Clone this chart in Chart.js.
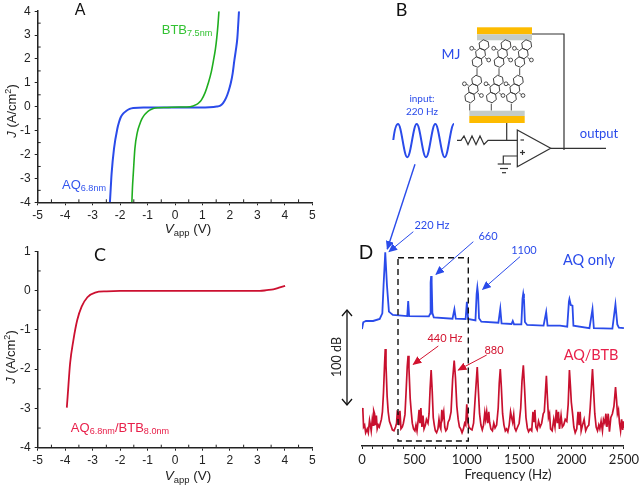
<!DOCTYPE html>
<html>
<head>
<meta charset="utf-8">
<title>Molecular junction rectification</title>
<script src="https://cdn.jsdelivr.net/npm/chart.js@4"></script>
<style>
  html, body { margin: 0; padding: 0; background: #fff; }
  #page { position: relative; width: 642px; height: 485px; overflow: hidden; filter: blur(0.4px); }
  canvas { position: absolute; }
  svg { position: absolute; left: 0; top: 0; }
  .t { position: absolute; transform: translate(-50%, -50%); white-space: nowrap; font-family: "Liberation Sans", Arial, sans-serif; line-height: 1; }
  .l { font-family: Lato, sans-serif; }
  .r { transform: translate(-50%, -50%) rotate(-90deg); }
  sub { font-size: 70%; vertical-align: -0.3em; line-height: 0; }
  sup { font-size: 70%; vertical-align: 0.45em; line-height: 0; }
</style>
</head>
<body>
<div id="page">
  <canvas id="chartA" width="325" height="235" style="left:0;top:0"></canvas>
  <canvas id="chartC" width="325" height="245" style="left:0;top:240px"></canvas>
  <canvas id="chartD" width="312" height="260" style="left:330px;top:225px"></canvas>

  <svg width="642" height="485">
    <defs>
      <g id="aq" fill="none" stroke="#3a3a3a" stroke-width="0.9">
        <g transform="rotate(-8)">
          <polygon points="0,-5.3 4.6,-2.65 4.6,2.65 0,5.3 -4.6,2.65 -4.6,-2.65"/>
          <polygon transform="translate(-4.6,7.97)" points="0,-5.3 4.6,-2.65 4.6,2.65 0,5.3 -4.6,2.65 -4.6,-2.65"/>
          <polygon transform="translate(-9.2,15.93)" points="0,-5.3 4.6,-2.65 4.6,2.65 0,5.3 -4.6,2.65 -4.6,-2.65"/>
        </g>
        <circle cx="-12.3" cy="3.3" r="1.9"/>
        <circle cx="4.7" cy="15" r="1.9"/>
        <line x1="-10.4" y1="3.8" x2="-8.2" y2="4.8"/>
        <line x1="3" y1="14" x2="1" y2="12.6"/>
        <line x1="-7" y1="23.2" x2="-7" y2="30"/>
      </g>
      <marker id="headB" markerWidth="9" markerHeight="8" refX="8" refY="4" orient="auto" markerUnits="userSpaceOnUse"><path d="M0 0 L9 4 L0 8 Z" fill="#2a4bea"/></marker>
      <marker id="headR" markerWidth="9" markerHeight="8" refX="8" refY="4" orient="auto" markerUnits="userSpaceOnUse"><path d="M0 0 L9 4 L0 8 Z" fill="#d2122e"/></marker>
    </defs>

    <!-- junction -->
    <rect x="477" y="27.3" width="55" height="7" fill="#fdbb00"/>
    <rect x="477" y="34.3" width="55" height="6" fill="#c4ccc8"/>
    <rect x="469.3" y="110.7" width="55.4" height="5.3" fill="#c4ccc8"/>
    <rect x="469.3" y="116" width="55.4" height="7" fill="#fdbb00"/>
    <use href="#aq" x="484" y="45"/>
    <use href="#aq" x="506" y="45"/>
    <use href="#aq" x="526.7" y="45"/>
    <use href="#aq" x="476.7" y="80.5"/>
    <use href="#aq" x="498.3" y="80.5"/>
    <use href="#aq" x="518.3" y="80.5"/>

    <!-- amplifier circuit -->
    <g fill="none" stroke="#333" stroke-width="1.2">
      <polyline points="532,34 564,34 564,150"/>
      <polyline points="550.7,148.3 606,148.3"/>
      <polygon points="517.3,130 517.3,166.7 550.7,148.3"/>
      <polyline points="506.7,123 506.7,140.3"/>
      <polyline points="457,140.3 461,140.3 464,136 468,144.5 472,136 476,144.5 480,136 484,144.5 488,140.3 517.3,140.3"/>
      <polyline points="517.3,156 503.3,156 503.3,164"/>
      <line x1="497.7" y1="164" x2="511" y2="164"/>
      <line x1="500" y1="168.5" x2="508" y2="168.5"/>
      <line x1="502" y1="172.7" x2="506" y2="172.7"/>
      <line x1="520.5" y1="140" x2="524" y2="140"/>
      <line x1="520" y1="152.5" x2="525" y2="152.5"/>
      <line x1="522.5" y1="150" x2="522.5" y2="155"/>
    </g>
    <path d="M393.3 140 C394.5 130 396 124 398 124 C401.5 124 403.8 157.3 407.3 157.3 C410.8 157.3 413.2 124 416.7 124 C420.2 124 422.5 157.3 426 157.3 C429.5 157.3 431.8 124 435.3 124 C438.8 124 441.2 157.3 444.7 157.3 C448.2 157.3 450.5 124 454 124" fill="none" stroke="#2a4bea" stroke-width="2"/>

    <!-- arrows -->
    <g stroke="#2a4bea" fill="none">
      <line x1="415" y1="164.3" x2="387.3" y2="249" stroke-width="1.4" marker-end="url(#headB)"/>
      <line x1="413.3" y1="231.7" x2="389" y2="251.7" stroke-width="1" marker-end="url(#headB)"/>
      <line x1="473.3" y1="241.7" x2="436" y2="274.3" stroke-width="1" marker-end="url(#headB)"/>
      <line x1="520" y1="256.7" x2="482.7" y2="289.3" stroke-width="1" marker-end="url(#headB)"/>
    </g>
    <g stroke="#d2122e" fill="none" stroke-width="1">
      <line x1="438.3" y1="346" x2="413.3" y2="364.3" marker-end="url(#headR)"/>
      <line x1="486.7" y1="355" x2="458.3" y2="370" marker-end="url(#headR)"/>
    </g>
    <rect x="398" y="257.7" width="70.3" height="183.3" fill="none" stroke="#111" stroke-width="1.4" stroke-dasharray="6 4"/>
    <g fill="none" stroke="#111" stroke-width="1.3">
      <line x1="347" y1="310" x2="347" y2="405"/>
      <polyline points="342,316 347,310 352,316"/>
      <polyline points="342,399 347,405 352,399"/>
    </g>
  </svg>

  <div class="t" style="left:80px;top:10px;font-size:16px;color:#111">A</div>
  <div class="t l" style="left:401.5px;top:9px;font-size:18px;color:#111">B</div>
  <div class="t l" style="left:100px;top:254px;font-size:18px;color:#111">C</div>
  <div class="t l" style="left:366px;top:251px;font-size:19px;color:#111">D</div>

  <div class="t" style="left:187px;top:29px;font-size:13px;color:#33c233">BTB<sub>7.5nm</sub></div>
  <div class="t" style="left:84px;top:184px;font-size:13px;color:#3355ee">AQ<sub>6.8nm</sub></div>
  <div class="t" style="left:120px;top:427px;font-size:13px;color:#e8204a">AQ<sub>6.8nm</sub>/BTB<sub>8.0nm</sub></div>

  <div class="t" style="left:188px;top:229px;font-size:13.5px;color:#222"><i>V</i><sub>app</sub> (V)</div>
  <div class="t" style="left:188px;top:476px;font-size:13.5px;color:#222"><i>V</i><sub>app</sub> (V)</div>
  <div class="t r" style="left:11px;top:111px;font-size:13px;color:#222"><i>J</i> (A/cm<sup>2</sup>)</div>
  <div class="t r" style="left:10px;top:357px;font-size:13px;color:#222"><i>J</i> (A/cm<sup>2</sup>)</div>

  <div class="t l" style="left:451px;top:54px;font-size:14px;color:#2a4bea">MJ</div>
  <div class="t l" style="left:422px;top:98px;font-size:10px;color:#2a4bea">input:</div>
  <div class="t l" style="left:422px;top:111px;font-size:10px;color:#2a4bea">220 Hz</div>
  <div class="t l" style="left:599px;top:133px;font-size:13px;color:#2a4bea">output</div>
  <div class="t l" style="left:432px;top:224px;font-size:11px;color:#2a4bea">220 Hz</div>
  <div class="t l" style="left:488px;top:235px;font-size:11px;color:#2a4bea">660</div>
  <div class="t l" style="left:524px;top:249px;font-size:11px;color:#2a4bea">1100</div>
  <div class="t l" style="left:589px;top:260px;font-size:14.5px;color:#2a4bea">AQ only</div>
  <div class="t l" style="left:445px;top:337px;font-size:11px;color:#d2122e">440 Hz</div>
  <div class="t l" style="left:494px;top:349px;font-size:11px;color:#d2122e">880</div>
  <div class="t l" style="left:591px;top:355px;font-size:14.5px;color:#e8204a">AQ/BTB</div>
  <div class="t l r" style="left:337px;top:357px;font-size:12.5px;color:#222">100 dB</div>
  <div class="t l" style="left:508px;top:475px;font-size:13.3px;color:#222">Frequency (Hz)</div>
</div>

<script>
/* globals Chart:false */

// Panel A, J-V curves
var vBtb = [-1.57, -1.55, -1.52, -1.46, -1.37, -1.29, -1.21, -1.12, -1.03, -0.92, -0.79, -0.6, -0.3, 0.2, 0.55, 0.79, 0.88, 0.97, 1.1, 1.21, 1.32, 1.40, 1.47, 1.52, 1.57, 1.60]
var jBtb = [-4, -3.4, -2.82, -1.74, -1.06, -0.75, -0.52, -0.35, -0.24, -0.14, -0.07, -0.04, -0.03, -0.01, 0, 0.1, 0.18, 0.3, 0.6, 0.98, 1.45, 1.93, 2.4, 2.87, 3.5, 4]
var vAq = [-2.37, -2.34, -2.31, -2.22, -2.10, -2.04, -1.98, -1.88, -1.78, -1.65, -1.52, -1.15, -0.5, 0.3, 0.91, 1.52, 1.65, 1.75, 1.86, 1.95, 2.03, 2.10, 2.16, 2.22, 2.27, 2.33]
var jAq = [-4, -3.4, -2.82, -1.74, -0.92, -0.65, -0.45, -0.28, -0.18, -0.09, -0.05, -0.03, -0.03, -0.03, -0.03, 0.01, 0.05, 0.15, 0.37, 0.65, 0.98, 1.4, 1.93, 2.4, 2.87, 4]

// Panel C, J-V curve
var vBilayer = [-3.94, -3.91, -3.82, -3.70, -3.56, -3.40, -3.19, -2.91, -2.49, -2.0, -1, 0, 1, 2, 3.09, 3.34, 3.58, 3.82, 4.01]
var jBilayer = [-2.98, -2.70, -1.85, -1.26, -0.75, -0.41, -0.17, -0.05, -0.02, -0.01, -0.01, -0.01, -0.01, -0.01, -0.01, 0.01, 0.03, 0.08, 0.12]

// Panel D, spectra (dB above the axis, no scale printed in the figure)
var fAqOnly = [0, 12, 38, 106, 169, 194, 206, 222, 238, 257, 294, 432, 441, 450, 638, 650, 655, 660, 665, 672, 685, 864, 882, 895, 989, 1001, 1013, 1083, 1094, 1101, 1108, 1117, 1139, 1302, 1320, 1332, 1427, 1439, 1451, 1521, 1532, 1539, 1546, 1555, 1577, 1733, 1758, 1771, 1890, 1959, 1975, 1980, 1993, 2009, 2018, 2171, 2200, 2213, 2390, 2419, 2437, 2452, 2500]
var dbAqOnly = [123.2, 130.2, 131.6, 131.6, 133.7, 139.6, 169.5, 203.9, 169.5, 141.4, 138, 136.8, 152.6, 136.8, 136.5, 139, 172, 178.9, 172, 140, 135.4, 134, 143.9, 134, 133.7, 151.9, 133.7, 132.3, 160, 167, 160, 134.4, 130.9, 129.8, 144.6, 129.1, 128.4, 131.6, 128, 128, 155, 160.3, 155, 130.5, 127.4, 126.7, 141, 126.7, 126.7, 125.6, 152, 154.7, 148.4, 147.7, 126.7, 124, 144, 124, 123.5, 149, 128, 124.5, 124]

var fAqBtb = [0, 8, 15, 25, 35, 50, 60, 72, 80, 88, 98, 105, 112, 120, 128, 137, 145, 155, 165, 175, 185, 195, 205, 215, 222, 229, 240, 250, 262, 275, 290, 305, 320, 330, 337, 345, 352, 362, 372, 385, 395, 410, 420, 432, 440, 448, 460, 470, 480, 492, 505, 515, 525, 535, 545, 553, 562, 572, 582, 592, 605, 615, 630, 640, 650, 660, 670, 680, 690, 700, 712, 725, 735, 745, 752, 762, 770, 780, 790, 800, 812, 822, 835, 850, 865, 880, 892, 905, 918, 930, 942, 955, 968, 980, 990, 1000, 1010, 1020, 1035, 1050, 1065, 1080, 1092, 1100, 1110, 1122, 1135, 1148, 1160, 1172, 1180, 1190, 1200, 1210, 1218, 1230, 1245, 1258, 1270, 1285, 1300, 1310, 1320, 1330, 1342, 1355, 1368, 1380, 1392, 1405, 1418, 1428, 1438, 1448, 1458, 1470, 1485, 1500, 1515, 1527, 1540, 1552, 1565, 1578, 1590, 1605, 1620, 1632, 1642, 1650, 1660, 1672, 1685, 1700, 1715, 1730, 1740, 1750, 1760, 1770, 1780, 1790, 1800, 1815, 1830, 1842, 1855, 1865, 1875, 1885, 1900, 1912, 1925, 1940, 1955, 1968, 1980, 1990, 1998, 2010, 2022, 2035, 2050, 2062, 2072, 2082, 2092, 2105, 2120, 2135, 2150, 2165, 2178, 2190, 2200, 2210, 2222, 2235, 2248, 2260, 2270, 2282, 2295, 2305, 2318, 2328, 2338, 2350, 2362, 2375, 2390, 2405, 2420, 2430, 2438, 2448, 2458, 2468, 2478, 2488, 2495, 2500]
var dbAqBtb = [40, 38, 20, 22, 14, 18, 14, 27, 22, 16, 28, 22, 37, 34, 22, 32, 18, 22, 20, 24, 28, 36, 56, 85, 102, 85, 52, 36, 26, 22, 17, 16, 20, 24, 36, 35, 22, 37, 18, 20, 24, 33, 55, 84, 95, 82, 50, 36, 24, 18, 16, 22, 16, 26, 38, 24, 40, 20, 32, 18, 22, 28, 24, 34, 60, 80, 58, 30, 22, 16, 14, 18, 28, 20, 18, 38, 30, 36, 20, 16, 18, 25, 28, 36, 70, 90, 72, 42, 28, 20, 18, 14, 18, 24, 22, 44, 26, 20, 18, 17, 24, 50, 70, 83, 60, 34, 22, 17, 22, 35, 28, 36, 24, 36, 25, 18, 16, 24, 19, 22, 40, 66, 81, 62, 34, 22, 16, 18, 15, 22, 36, 30, 25, 33, 19, 16, 20, 24, 40, 68, 85, 60, 30, 19, 15, 18, 16, 36, 26, 38, 20, 17, 26, 20, 24, 34, 36, 55, 74, 50, 30, 34, 18, 16, 28, 20, 38, 24, 36, 18, 32, 20, 22, 28, 26, 44, 80, 62, 46, 34, 20, 14, 18, 36, 22, 36, 16, 22, 28, 16, 20, 22, 40, 62, 81, 60, 34, 20, 16, 22, 18, 26, 16, 28, 24, 34, 20, 34, 15, 30, 34, 42, 62, 48, 34, 38, 24, 16, 28, 17, 26, 19]

var axisColor = '#222'
var tickFont = { family: '"Liberation Sans", Arial, sans-serif', size: 12 }

function xy (xs, ys) {
  return xs.map(function (x, i) { return { x: x, y: ys[i] } })
}

// small inward ticks halfway between the labelled ones
var minorTicks = {
  id: 'minorTicks',
  afterDraw: function (chart) {
    var step = chart.options.plugins.minorTicks.step
    if (!step) return
    var c = chart.ctx
    var a = chart.chartArea
    var v
    c.save()
    c.strokeStyle = axisColor
    c.lineWidth = 1
    c.beginPath()
    for (v = chart.scales.x.min + step; v < chart.scales.x.max; v += 2 * step) {
      var px = chart.scales.x.getPixelForValue(v)
      c.moveTo(px, a.bottom)
      c.lineTo(px, a.bottom - 3)
    }
    for (v = chart.scales.y.min + step; v < chart.scales.y.max; v += 2 * step) {
      var py = chart.scales.y.getPixelForValue(v)
      c.moveTo(a.left, py)
      c.lineTo(a.left + 3, py)
    }
    c.stroke()
    c.restore()
  }
}

function baseOptions (padding, yMin, yMax, bottomHeight) {
  return {
    responsive: false,
    animation: false,
    layout: { padding: padding },
    plugins: { legend: { display: false }, tooltip: { enabled: false }, minorTicks: { step: 0.5 } },
    elements: { point: { radius: 0 } },
    scales: {
      x: {
        type: 'linear',
        min: -5,
        max: 5,
        afterFit: function (s) { s.height = bottomHeight },
        border: { color: axisColor, width: 1.5 },
        grid: { drawOnChartArea: false, tickColor: axisColor, tickLength: 3 },
        ticks: { stepSize: 1, color: axisColor, font: tickFont, padding: 3, maxRotation: 0 }
      },
      y: {
        min: yMin,
        max: yMax,
        afterFit: function (s) { s.width = 37.7 },
        border: { color: axisColor, width: 1.5 },
        grid: { drawOnChartArea: false, tickColor: axisColor, tickLength: 3 },
        ticks: { stepSize: 1, color: axisColor, font: tickFont, padding: 4 }
      }
    }
  }
}

new Chart(document.getElementById('chartA'), {
  type: 'scatter',
  data: {
    datasets: [
      { label: 'BTB', data: xy(vBtb, jBtb), showLine: true, borderColor: '#1fae1f', borderWidth: 1.6, cubicInterpolationMode: 'monotone' },
      { label: 'AQ', data: xy(vAq, jAq), showLine: true, borderColor: '#2a4bea', borderWidth: 2, cubicInterpolationMode: 'monotone' }
    ]
  },
  options: baseOptions({ top: 5.7, right: 12.7 }, -4, 4, 32.7),
  plugins: [minorTicks]
})

new Chart(document.getElementById('chartC'), {
  type: 'scatter',
  data: {
    datasets: [
      { label: 'AQ/BTB', data: xy(vBilayer, jBilayer), showLine: true, borderColor: '#cc1030', borderWidth: 1.8, cubicInterpolationMode: 'monotone' }
    ]
  },
  options: baseOptions({ top: 11.3, right: 12.7 }, -4, 1, 37.3),
  plugins: [minorTicks]
})

new Chart(document.getElementById('chartD'), {
  type: 'scatter',
  data: {
    datasets: [
      { label: 'AQ only', data: xy(fAqOnly, dbAqOnly), showLine: true, borderColor: '#2a4bea', borderWidth: 1.8 },
      { label: 'AQ/BTB', data: xy(fAqBtb, dbAqBtb), showLine: true, borderColor: '#c8102e', borderWidth: 1.7 }
    ]
  },
  options: {
    responsive: false,
    animation: false,
    layout: { padding: { left: 32, right: 13.7, top: 12 } },
    plugins: { legend: { display: false }, tooltip: { enabled: false } },
    elements: { point: { radius: 0 } },
    scales: {
      x: {
        type: 'linear',
        min: 0,
        max: 2500,
        afterFit: function (s) { s.height = 39 },
        border: { color: axisColor, width: 1.5 },
        grid: { drawOnChartArea: false, tickColor: axisColor, tickLength: 3 },
        ticks: {
          stepSize: 100,
          autoSkip: false,
          maxRotation: 0,
          color: axisColor,
          padding: 3,
          font: { family: 'Lato, sans-serif', size: 13 },
          callback: function (v) { return v % 500 === 0 ? v : '' }
        }
      },
      y: { display: false, min: 0, max: 220 }
    }
  }
})
</script>
</body>
</html>
